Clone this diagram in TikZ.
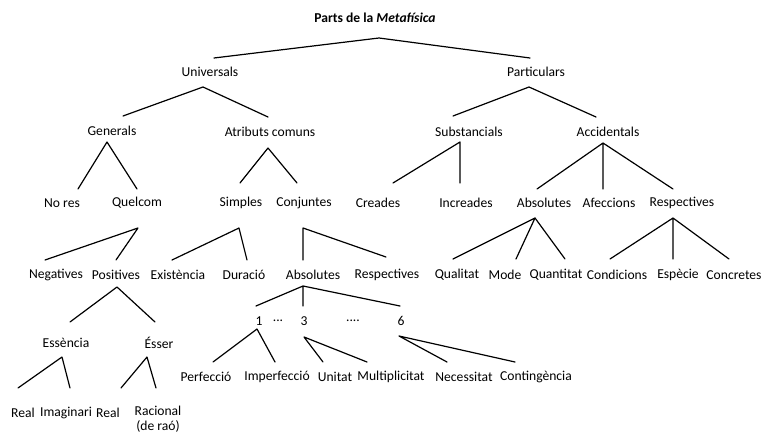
\documentclass[tikz,border=0pt]{standalone}
\usepackage{fontspec}
\setmainfont{Carlito}
\begin{document}
\begin{tikzpicture}[x=1pt,y=-1pt,
  lbl/.style={inner sep=0pt,font=\fontsize{13.6}{15}\selectfont},
  edge/.style={line width=1.2pt,line cap=round}]
\useasboundingbox (0,0) rectangle (762,435);
% nodes
\node[lbl] (title) at (375,18) {\textbf{Parts de la \textit{Metafísica}}};
\node[lbl] (univ) at (210,72) {Universals};
\node[lbl] (part) at (536,72) {Particulars};
\node[lbl] (gen) at (112,131) {Generals};
\node[lbl] (atr) at (270,132) {Atributs comuns};
\node[lbl] (subs) at (469,132) {Substancials};
\node[lbl] (acc) at (608,132) {Accidentals};
\node[lbl] (nores) at (62,203) {No res};
\node[lbl] (quel) at (137,203) {Quelcom};
\node[lbl] (simp) at (241,203) {Simples};
\node[lbl] (conj) at (304,203) {Conjuntes};
\node[lbl] (crea) at (378,203) {Creades};
\node[lbl] (incr) at (466,203) {Increades};
\node[lbl] (abs) at (544,203) {Absolutes};
\node[lbl] (afec) at (609,203) {Afeccions};
\node[lbl] (resp) at (682,203) {Respectives};
\node[lbl] (neg) at (56,275) {Negatives};
\node[lbl] (pos) at (116,275) {Positives};
\node[lbl] (exis) at (178,275) {Existència};
\node[lbl] (dur) at (244,275) {Duració};
\node[lbl] (cabs) at (313,275) {Absolutes};
\node[lbl] (cresp) at (387,275) {Respectives};
\node[lbl] (qual) at (457,275) {Qualitat};
\node[lbl] (mode) at (505,275) {Mode};
\node[lbl] (quan) at (556,275) {Quantitat};
\node[lbl] (cond) at (617,275) {Condicions};
\node[lbl] (esp) at (678,275) {Espècie};
\node[lbl] (conc) at (734,275) {Concretes};
\node[lbl] (n1) at (259,321) {1};
\node[lbl] (d1) at (278,321) {...};
\node[lbl] (n3) at (304,321) {3};
\node[lbl] (d2) at (353,321) {....};
\node[lbl] (n6) at (401,321) {6};
\node[lbl] (ess) at (66,343) {Essència};
\node[lbl] (esser) at (159,343) {Ésser};
\node[lbl] (perf) at (206,377) {Perfecció};
\node[lbl] (imp) at (277,377) {Imperfecció};
\node[lbl] (unit) at (335,377) {Unitat};
\node[lbl] (mult) at (391,377) {Multiplicitat};
\node[lbl] (nec) at (464,377) {Necessitat};
\node[lbl] (cont) at (536,377) {Contingència};
\node[lbl] (real1) at (23,413) {Real};
\node[lbl] (imag) at (66,413) {Imaginari};
\node[lbl] (real2) at (108,413) {Real};
\node[lbl,align=center,anchor=north] (rac) at (158,406) {Racional\\(de raó)};
% apex coordinates
\coordinate (aT) at (379,38);
\coordinate (aU) at (203,87);
\coordinate (aP) at (529,87);
\coordinate (aG) at (107,142);
\coordinate (aA) at (268,148);
\coordinate (aS) at (460,142);
\coordinate (aAc) at (603,143);
\coordinate (aQ) at (138,228);
\coordinate (aSi) at (239,228);
\coordinate (aC) at (303,228);
\coordinate (aAb) at (535,218);
\coordinate (aR) at (673,218);
\coordinate (aPo) at (117,287);
\coordinate (aCA) at (303,286);
\coordinate (a1) at (257,329);
\coordinate (a3) at (304,337);
\coordinate (a6) at (399,336);
\coordinate (aE) at (62,357);
\coordinate (aEs) at (147,357);
% connectors
\begin{scope}[edge]
\draw (aT) -- (214,58) (aT) -- (530,58);
\draw (aU) -- (123,116) (aU) -- (268,117);
\draw (aP) -- (453,116) (aP) -- (596,117);
\draw (aG) -- (78,189) (aG) -- (137,189);
\draw (aA) -- (240,183) (aA) -- (297,183);
\draw (aS) -- (393,183) (aS) -- (460,183);
\draw (aAc) -- (537,189) (aAc) -- (603,189) (aAc) -- (673,189);
\draw (aQ) -- (45,260) (aQ) -- (116,260);
\draw (aSi) -- (172,260) (aSi) -- (247,260);
\draw (aC) -- (303,260) (aC) -- (386,257);
\draw (aAb) -- (453,259) (aAb) -- (516,259) (aAb) -- (565,259);
\draw (aR) -- (610,259) (aR) -- (673,259) (aR) -- (729,259);
\draw (aPo) -- (70,322) (aPo) -- (155,322);
\draw (aCA) -- (256,306) (aCA) -- (303,306) (aCA) -- (400,306);
\draw (a1) -- (213,362) (a1) -- (275,362);
\draw (a3) -- (323,362) (a3) -- (367,362);
\draw (a6) -- (447,362) (a6) -- (515,362);
\draw (aE) -- (18,388) (aE) -- (70,388);
\draw (aEs) -- (121,388) (aEs) -- (156,388);
\end{scope}
\end{tikzpicture}
\end{document}
